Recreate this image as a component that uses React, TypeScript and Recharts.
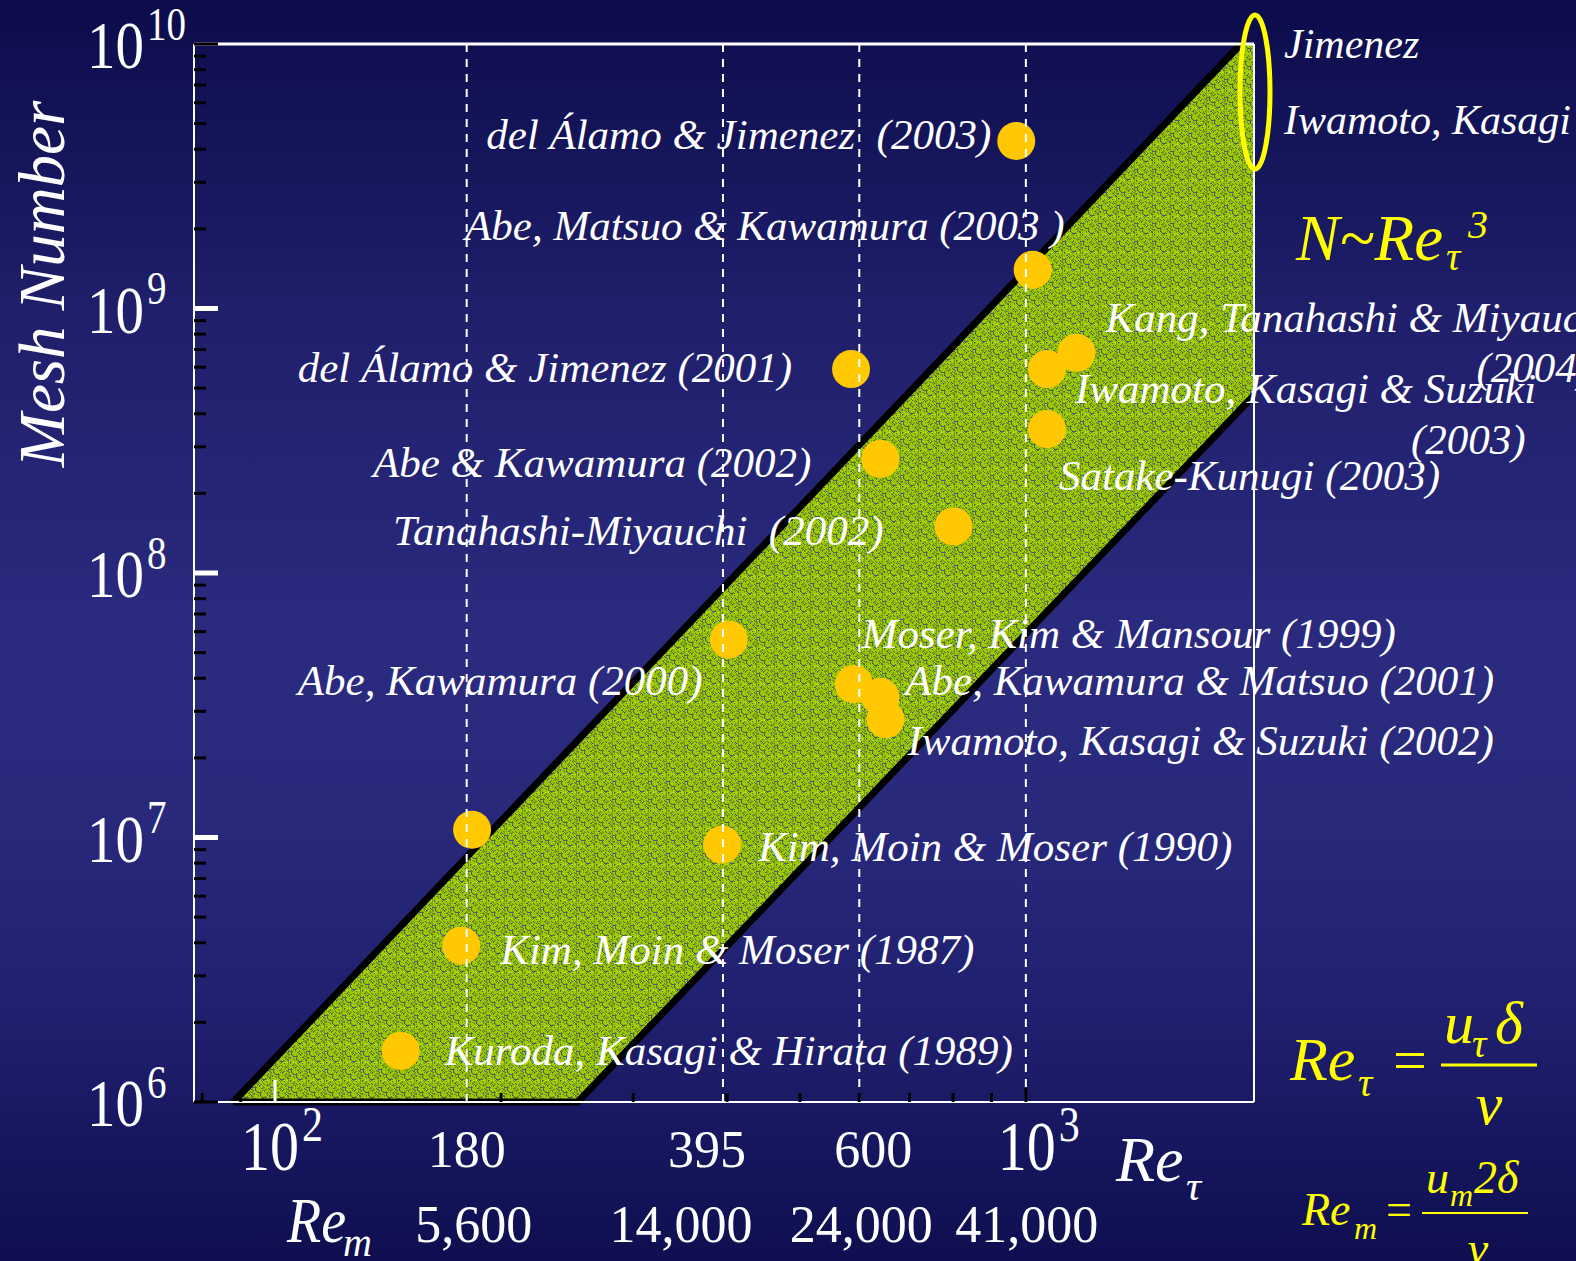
import { ComposedChart, Area, Line, Scatter, XAxis, YAxis, ReferenceLine } from 'recharts';

const W = 1576;
const H = 1261;
const SERIF = '"Liberation Serif", "Times New Roman", Times, serif';
const YELLOW = '#ffff00';
const DOT = '#ffc800';

// DNS runs of turbulent channel flow: friction Reynolds number and total grid points
const studies = [
  'del Álamo & Jimenez  (2003)',
  'Abe, Matsuo & Kawamura (2003 )',
  'Kang, Tanahashi & Miyauchi\n(2004)',
  'Iwamoto, Kasagi & Suzuki\n(2003)',
  'Satake-Kunugi (2003)',
  'del Álamo & Jimenez (2001)',
  'Abe & Kawamura (2002)',
  'Tanahashi-Miyauchi  (2002)',
  'Abe, Kawamura (2000)',
  'Moser, Kim & Mansour (1999)',
  'Abe, Kawamura & Matsuo (2001)',
  'Iwamoto, Kasagi & Suzuki (2002)',
  '',
  'Kim, Moin & Moser (1990)',
  'Kim, Moin & Moser (1987)',
  'Kuroda, Kasagi & Hirata (1989)',
];
const reTau = [971, 1021, 1168, 1067, 1067, 585, 640, 801, 402, 590, 640, 650, 183, 394, 177, 147];
const meshN = [4.3e9, 1.4e9, 6.8e8, 5.9e8, 3.5e8, 5.9e8, 2.7e8, 1.5e8, 5.6e7, 3.8e7, 3.4e7, 2.8e7, 1.07e7, 9.4e6, 3.9e6, 1.56e6];

// resolution band, both edges follow N ~ Re^3
const bandRe = [88, 253, 1934, 2013];
const bandLow = [1e6, 1e6, 4.2e8, 4.7e8];
const bandHigh = [1e6, 2.3e7, 1e10, 1e10];
const upperRe = [88, 1934];
const upperN = [1e6, 1e10];
const lowerRe = [88, 253, 2013];
const lowerN = [1e6, 1e6, 4.7e8];

// axes
const xDomain = [78, 2013];
const yDomain = [1e6, 1e10];
const xLabelRe = [100, 180, 395, 600, 1000];
const xLabelText = ['10', '180', '395', '600', '10'];
const xLabelPow = ['2', '', '', '', '3'];
const remLabels = ['', '5,600', '14,000', '24,000', '41,000'];
const yMajor = [1e6, 1e7, 1e8, 1e9, 1e10];
const yPow = ['6', '7', '8', '9', '10'];
const dashedRe = [180, 395, 600, 1000];

// label placement (px from the dot centre)
type Lay = { dx: number; dy: number; anchor: 'start' | 'end' };
const labelLayout: (Lay & { next?: Lay })[] = [
  { dx: -25, dy: 8, anchor: 'end' },
  { dx: 32, dy: -30, anchor: 'end' },
  { dx: 29, dy: -21, anchor: 'start', next: { dx: 400, dy: 29, anchor: 'start' } },
  { dx: 28, dy: 34, anchor: 'start', next: { dx: 364, dy: 85, anchor: 'start' } },
  { dx: 12, dy: 61, anchor: 'start' },
  { dx: -59, dy: 13, anchor: 'end' },
  { dx: -69, dy: 18, anchor: 'end' },
  { dx: -70, dy: 19, anchor: 'end' },
  { dx: -26, dy: 55, anchor: 'end' },
  { dx: 8, dy: -36, anchor: 'start' },
  { dx: 25, dy: -2, anchor: 'start' },
  { dx: 22, dy: 36, anchor: 'start' },
  { dx: 0, dy: 0, anchor: 'start' },
  { dx: 36, dy: 16, anchor: 'start' },
  { dx: 39, dy: 18, anchor: 'start' },
  { dx: 44, dy: 14, anchor: 'start' },
];
const xLabelShift = [-5, 0, -16, 14, 1];
const remShift = [0, 7, -42, 2, 1];

const points = studies.map((name, i) => ({ re: reTau[i], n: meshN[i], name, id: i }));
const bandData = bandRe.map((re, i) => ({ re, range: [bandLow[i], bandHigh[i]] }));
const upperEdge = upperRe.map((re, i) => ({ re, n: upperN[i] }));
const lowerEdge = lowerRe.map((re, i) => ({ re, n: lowerN[i] }));

const minorTicks = (lo: number, hi: number) => {
  const out: number[] = [];
  for (let e = Math.floor(Math.log10(lo)); e < Math.ceil(Math.log10(hi)); e++) {
    for (let k = 2; k <= 9; k++) {
      const v = k * Math.pow(10, e);
      if (v > lo && v < hi) out.push(v);
    }
  }
  return out;
};
const xMinor = minorTicks(xDomain[0], xDomain[1]).filter((v) => v < 2000);
const yMinor = minorTicks(yDomain[0], yDomain[1]);
const byValue = (a: number, b: number) => a - b;
const xBottomTicks = Array.from(new Set([...xMinor, ...xLabelRe])).sort(byValue);
const xTopTicks = [...xMinor, 100, 1000].sort(byValue);
const yTicks = [...yMinor, ...yMajor].sort(byValue);

// speckled texture for the band
const grain: { x: number; y: number; c: string }[] = [];
for (let j = 0; j < 18; j++) {
  for (let i = 0; i < 18; i++) {
    const h = (i * 7 + j * 11 + ((i * j) % 5)) % 9;
    if (h === 0) grain.push({ x: i, y: j, c: '#5f7a2a' });
    else if (h === 5) grain.push({ x: i, y: j, c: '#46567a' });
    else if (h === 3) grain.push({ x: i, y: j, c: '#7f9f14' });
  }
}

// "10" with an exponent, drawn a little taller than wide
function PowerOfTen(p: { x: number; y: number; pow: string; size: number; supSize: number; anchor?: 'middle' | 'start' }) {
  const { x, y, pow, size, supSize, anchor = 'start' } = p;
  const left = anchor === 'middle' ? -size / 2 : 0;
  return (
    <g transform={`translate(${x} ${y}) scale(1 1.2)`} fill="#fff" fontFamily={SERIF}>
      <text x={left} y={0} fontSize={size}>
        10
      </text>
      <text x={left + size + 3} y={-size * 0.41} fontSize={supSize}>
        {pow}
      </text>
    </g>
  );
}

function LeftTick(p: any) {
  const { x, y, payload } = p;
  const k = yMajor.indexOf(payload.value);
  if (k < 0) return <line x1={x} x2={x + 12} y1={y} y2={y} stroke="#000" strokeWidth={3} />;
  const end = k === 0 || k === yMajor.length - 1;
  return (
    <g>
      <line x1={x} x2={x + 24} y1={y} y2={y} stroke={end ? '#000' : '#fff'} strokeWidth={end ? 3 : 5} />
      <PowerOfTen x={x - 107} y={y + 24} pow={yPow[k]} size={57} supSize={39} />
    </g>
  );
}

function RightTick(p: any) {
  const { x, y, payload } = p;
  const major = yMajor.includes(payload.value);
  return <line x1={x} x2={x - (major ? 20 : 10)} y1={y} y2={y} stroke="#000" strokeWidth={major ? 4 : 3} />;
}

function TopTick(p: any) {
  const { x, y, payload } = p;
  const major = payload.value === 100 || payload.value === 1000;
  return <line x1={x} x2={x} y1={y} y2={y + (major ? 22 : 10)} stroke="#000" strokeWidth={3} />;
}

function BottomTick(p: any) {
  const { x, y, payload } = p;
  const v = payload.value;
  const k = xLabelRe.indexOf(v);
  const parts: any[] = [];
  if (v === 100) parts.push(<line key="t" x1={x} x2={x} y1={y} y2={y - 22} stroke="#fff" strokeWidth={3} />);
  else if (v === 1000) parts.push(<line key="t" x1={x} x2={x} y1={y} y2={y - 14} stroke="#000" strokeWidth={3} />);
  else if (xMinor.includes(v)) parts.push(<line key="t" x1={x} x2={x} y1={y} y2={y - 9} stroke="#000" strokeWidth={3} />);
  if (k >= 0) {
    const cx = x + xLabelShift[k];
    const pow = xLabelPow[k];
    if (pow) {
      parts.push(<PowerOfTen key="a" x={cx} y={y + 68} pow={pow} size={58} supSize={42} anchor="middle" />);
    } else {
      parts.push(
        <text key="a" x={cx} y={y + 65} textAnchor="middle" fill="#fff" fontFamily={SERIF} fontSize={52}>
          {xLabelText[k]}
        </text>
      );
    }
    if (remLabels[k])
      parts.push(
        <text key="r" x={x + remShift[k]} y={y + 140} textAnchor="middle" fill="#fff" fontFamily={SERIF} fontSize={52}>
          {remLabels[k]}
        </text>
      );
  }
  return <g>{parts}</g>;
}

function StudyDot(p: any) {
  const { cx, cy, payload } = p;
  const lay = labelLayout[payload.id];
  const lines: string[] = payload.name ? payload.name.split('\n') : [];
  return (
    <g>
      <circle cx={cx} cy={cy} r={19} fill={DOT} />
      {lines.map((t, j) => {
        const o = j === 0 ? lay : lay.next!;
        return (
          <text
            key={j}
            x={cx + o.dx}
            y={cy + o.dy}
            textAnchor={o.anchor}
            fill="#fff"
            fontFamily={SERIF}
            fontStyle="italic"
            fontSize={43}
            style={{ whiteSpace: 'pre' }}
          >
            {t}
          </text>
        );
      })}
    </g>
  );
}

const txt = { fontFamily: SERIF, fontStyle: 'italic' as const };

export default function App() {
  return (
    <div
      style={{
        position: 'absolute',
        left: 0,
        top: 0,
        width: W,
        height: H,
        overflow: 'hidden',
        background:
          'linear-gradient(180deg, #0c0c4c 0%, #1f1f6b 25%, #2a2a7f 50%, #29297c 65%, #202070 80%, #0e0e50 100%)',
      }}
    >
      <ComposedChart width={W} height={H} margin={{ top: 43, right: 321, bottom: 0, left: 0 }}>
        <defs>
          <pattern id="bandGrain" width={18} height={18} patternUnits="userSpaceOnUse">
            <rect width={18} height={18} fill="#9ccc00" />
            <rect width={18} height={1} fill="#aedb10" />
            <rect width={1} height={18} fill="#7d9c20" />
            {grain.map((g, i) => (
              <rect key={i} x={g.x} y={g.y} width={1} height={1} fill={g.c} />
            ))}
          </pattern>
        </defs>
        <XAxis
          dataKey="re"
          type="number"
          scale="log"
          domain={xDomain}
          ticks={xBottomTicks}
          interval={0}
          height={159}
          tickSize={0}
          tickMargin={0}
          tickLine={false}
          axisLine={{ stroke: '#fff', strokeWidth: 2 }}
          tick={BottomTick}
        />
        <XAxis
          xAxisId="top"
          orientation="top"
          dataKey="re"
          type="number"
          scale="log"
          domain={xDomain}
          ticks={xTopTicks}
          interval={0}
          height={1}
          tickSize={0}
          tickMargin={0}
          tickLine={false}
          axisLine={{ stroke: '#fff', strokeWidth: 3 }}
          tick={TopTick}
        />
        <YAxis
          type="number"
          scale="log"
          domain={yDomain}
          ticks={yTicks}
          interval={0}
          width={194}
          tickSize={0}
          tickMargin={0}
          tickLine={false}
          axisLine={{ stroke: '#fff', strokeWidth: 2 }}
          tick={LeftTick}
        />
        <YAxis
          yAxisId="right"
          orientation="right"
          type="number"
          scale="log"
          domain={yDomain}
          ticks={yTicks}
          interval={0}
          width={1}
          tickSize={0}
          tickMargin={0}
          tickLine={false}
          axisLine={{ stroke: '#fff', strokeWidth: 2 }}
          tick={RightTick}
        />
        <Area
          data={bandData}
          dataKey="range"
          type="linear"
          stroke="none"
          fill="url(#bandGrain)"
          fillOpacity={1}
          isAnimationActive={false}
        />
        <Line data={upperEdge} dataKey="n" type="linear" stroke="#000" strokeWidth={7} dot={false} isAnimationActive={false} />
        <Line data={lowerEdge} dataKey="n" type="linear" stroke="#000" strokeWidth={7} dot={false} isAnimationActive={false} />
        <Scatter data={points} dataKey="n" shape={StudyDot} isAnimationActive={false} />
        {dashedRe.map((re) => (
          <ReferenceLine key={re} x={re} stroke="#fff" strokeWidth={2} strokeDasharray="8 7" zIndex={650} />
        ))}
      </ComposedChart>

      <svg width={W} height={H} style={{ position: 'absolute', left: 0, top: 0, pointerEvents: 'none' }}>
        <text transform="translate(64 284) rotate(-90)" textAnchor="middle" fill="#fff" fontSize={65} {...txt}>
          Mesh Number
        </text>
        <text x={1116} y={1181} fill="#fff" fontSize={64} {...txt}>
          Re
        </text>
        <text x={1186} y={1200} fill="#fff" fontSize={42} {...txt}>
          τ
        </text>
        <text transform="translate(287 1242) scale(1 1.15)" fill="#fff" fontSize={56} {...txt}>
          Re
        </text>
        <text x={343} y={1256} fill="#fff" fontSize={40} {...txt}>
          m
        </text>

        <ellipse cx={1255} cy={92} rx={15} ry={77} fill="none" stroke={YELLOW} strokeWidth={5} />
        <text x={1284} y={58} fill="#fff" fontSize={42} {...txt}>
          Jimenez
        </text>
        <text x={1284} y={134} fill="#fff" fontSize={42} {...txt}>
          Iwamoto, Kasagi
        </text>

        <text x={1296} y={260} fill={YELLOW} fontSize={65} {...txt}>
          N~Re
        </text>
        <text x={1446} y={270} fill={YELLOW} fontSize={40} {...txt}>
          τ
        </text>
        <text x={1468} y={238} fill={YELLOW} fontSize={40} {...txt}>
          3
        </text>

        <text x={1290} y={1080} fill={YELLOW} fontSize={62} {...txt}>
          Re
        </text>
        <text x={1358} y={1096} fill={YELLOW} fontSize={40} {...txt}>
          τ
        </text>
        <text x={1393} y={1080} fill={YELLOW} fontSize={60} fontFamily={SERIF}>
          =
        </text>
        <line x1={1441} x2={1537} y1={1065} y2={1065} stroke={YELLOW} strokeWidth={3} />
        <text x={1444} y={1043} fill={YELLOW} fontSize={60} {...txt}>
          u
        </text>
        <text x={1472} y={1057} fill={YELLOW} fontSize={40} {...txt}>
          τ
        </text>
        <text x={1495} y={1043} fill={YELLOW} fontSize={60} {...txt}>
          δ
        </text>
        <text x={1489} y={1124} textAnchor="middle" fill={YELLOW} fontSize={60} {...txt}>
          ν
        </text>

        <text x={1302} y={1225} fill={YELLOW} fontSize={46} {...txt}>
          Re
        </text>
        <text x={1354} y={1239} fill={YELLOW} fontSize={32} {...txt}>
          m
        </text>
        <text x={1386} y={1225} fill={YELLOW} fontSize={46} fontFamily={SERIF}>
          =
        </text>
        <line x1={1422} x2={1528} y1={1213} y2={1213} stroke={YELLOW} strokeWidth={2} />
        <text x={1426} y={1193} fill={YELLOW} fontSize={46} {...txt}>
          u
        </text>
        <text x={1450} y={1206} fill={YELLOW} fontSize={32} {...txt}>
          m
        </text>
        <text x={1474} y={1193} fill={YELLOW} fontSize={46} {...txt}>
          2δ
        </text>
        <text x={1478} y={1264} textAnchor="middle" fill={YELLOW} fontSize={46} {...txt}>
          ν
        </text>
      </svg>
    </div>
  );
}
